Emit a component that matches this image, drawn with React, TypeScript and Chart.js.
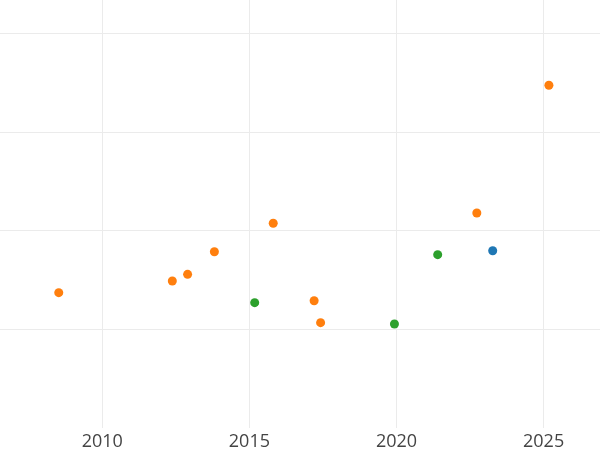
import React, { useEffect, useRef } from "react";
import { Chart, registerables } from "chart.js";

Chart.register(...registerables);

const orangeX = [2008.52, 2012.38, 2012.9, 2013.81, 2015.81, 2017.2, 2017.42, 2022.73, 2025.18];
const orangeY = [1.372, 1.49, 1.558, 1.788, 2.077, 1.29, 1.067, 2.181, 3.479];
const greenX = [2015.18, 2019.93, 2021.4];
const greenY = [1.27, 1.054, 1.758];
const blueX = [2023.27];
const blueY = [1.798];

const xTicks = [2010, 2015, 2020, 2025];
const yGrid = [1, 2, 3, 4];

const X_MIN = 2006.523;
const X_MAX = 2026.917;
const Y_MIN = 0;
const Y_MAX = 4.345;

const toPoints = (xs: number[], ys: number[]) => xs.map((x, i) => ({ x, y: ys[i] }));

export default function App() {
  const ref = useRef<HTMLCanvasElement | null>(null);
  useEffect(() => {
    if (!ref.current) return;
    const chart = new Chart(ref.current, {
      type: "scatter",
      data: {
        datasets: [
          { label: "blue", data: toPoints(blueX, blueY), backgroundColor: "#1f77b4", borderWidth: 0, pointRadius: 4.5 },
          { label: "orange", data: toPoints(orangeX, orangeY), backgroundColor: "#ff7f0e", borderWidth: 0, pointRadius: 4.5 },
          { label: "green", data: toPoints(greenX, greenY), backgroundColor: "#2ca02c", borderWidth: 0, pointRadius: 4.5 },
        ],
      },
      options: {
        animation: false,
        responsive: false,
        maintainAspectRatio: false,
        layout: { padding: 0, autoPadding: false },
        plugins: { legend: { display: false }, tooltip: { enabled: false } },
        scales: {
          x: {
            type: "linear",
            min: X_MIN,
            max: X_MAX,
            afterBuildTicks: (s: any) => {
              s.ticks = xTicks.map((v) => ({ value: v }));
            },
            afterFit: (s: any) => {
              s.height = 22.3;
            },
            border: { display: false },
            grid: { color: "#ebebeb", lineWidth: 1, drawTicks: false },
            ticks: {
              color: "#444444",
              font: { family: "'Open Sans'", size: 18 },
              padding: 3,
              maxRotation: 0,
              callback: (v: any) => String(v),
            },
          },
          y: {
            type: "linear",
            min: Y_MIN,
            max: Y_MAX,
            afterBuildTicks: (s: any) => {
              s.ticks = yGrid.map((v) => ({ value: v }));
            },
            afterFit: (s: any) => {
              s.width = 0;
            },
            border: { display: false },
            grid: { color: "#ebebeb", lineWidth: 1, drawTicks: false },
            ticks: { display: false },
          },
        },
      },
    });
    return () => chart.destroy();
  }, []);
  return (
    <div style={{ position: "fixed", left: 0, top: 0, width: 600, height: 450, background: "#fff" }}>
      <canvas ref={ref} width={600} height={450} style={{ width: 600, height: 450, display: "block" }} />
    </div>
  );
}
